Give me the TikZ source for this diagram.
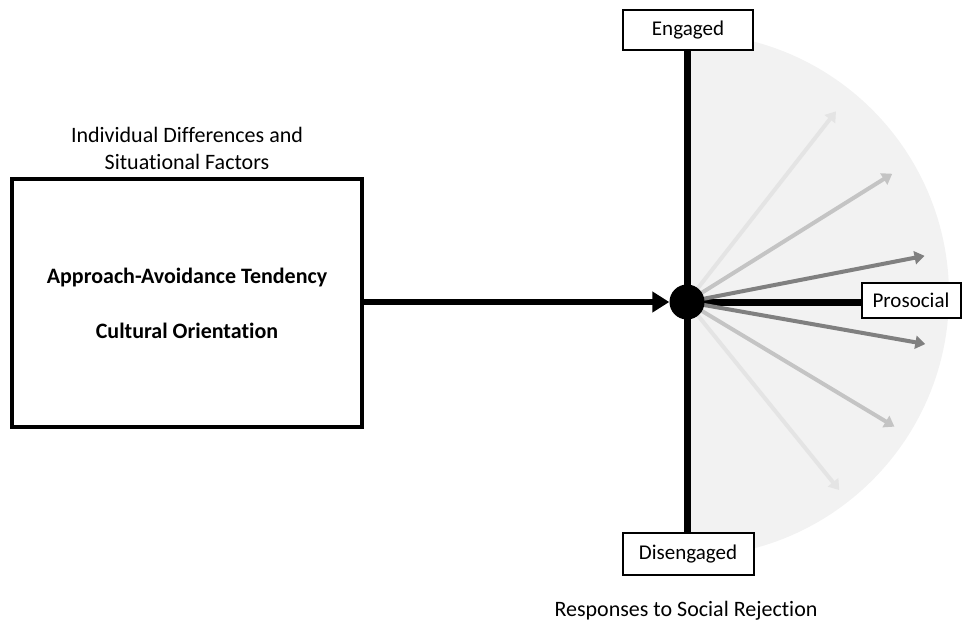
\documentclass[tikz,border=0pt]{standalone}
\usepackage{fontspec}
\setmainfont{Carlito}[Ligatures=NoCommon]
\usetikzlibrary{arrows.meta}
\definecolor{lightresp}{HTML}{E4E4E4}
\definecolor{midresp}{HTML}{C4C4C4}
\definecolor{darkresp}{HTML}{808080}
\tikzset{
  fanshade/.style={fill=gray!10},
  factorbox/.style={draw,line width=3.5pt,minimum width=350pt,minimum height=248pt,align=center},
  polebox/.style={draw,fill=white,line width=2pt,inner sep=0pt,font=\fontsize{21}{25}\selectfont},
  hubdot/.style={circle,fill=black,minimum size=35pt,inner sep=0pt},
  axis/.style={line width=7pt},
  response/.style={line width=4pt,-{Triangle[length=10pt,width=13pt]}},
  mainarrow/.style={line width=6pt,-{Triangle[length=17pt,width=20pt]}}
}
\begin{document}
\begin{tikzpicture}[x=1pt,y=-1pt,font=\fontsize{22}{27}\selectfont]
  \useasboundingbox (0,0) rectangle (962,627);
  \coordinate (origin) at (687,302);
  %shaded half disc
  \fill[fanshade] (687,33) arc[start angle=-90,end angle=90,radius=262] -- cycle;

  %boxes and labels
  \node[factorbox] (factors) at (187,303)
    {\textbf{Approach-Avoidance Tendency}\\[28pt]\textbf{Cultural Orientation}};
  \node[align=center] (factorslabel) at (187,148)
    {Individual Differences and\\Situational Factors};
  \node[polebox,minimum width=130pt,minimum height=40pt] (engaged) at (688,30) {Engaged};
  \node[polebox,minimum width=131pt,minimum height=42pt] (disengaged) at (688,554) {Disengaged};
  \node[polebox,minimum width=99pt,minimum height=35pt] (prosocial) at (911,300) {Prosocial};
  \node (caption) at (686,611) {Responses to Social Rejection};

  %axes
  \draw[axis] (engaged.south -| origin) -- (disengaged.north -| origin);
  \draw[axis] (origin) -- (origin -| prosocial.west);

  %responses
  \foreach \a/\c [count=\i] in {-52/lightresp,-32/midresp,-11/darkresp,10/darkresp,31/midresp,51/lightresp}
  {
    \path (origin) ++(\a:242) coordinate (resp\i);
    \draw[response,\c] (origin) -- (resp\i);
  }

  \node[hubdot] (hub) at (origin) {};
  \draw[mainarrow] (factors.east |- hub) -- (hub.west);
\end{tikzpicture}
\end{document}
